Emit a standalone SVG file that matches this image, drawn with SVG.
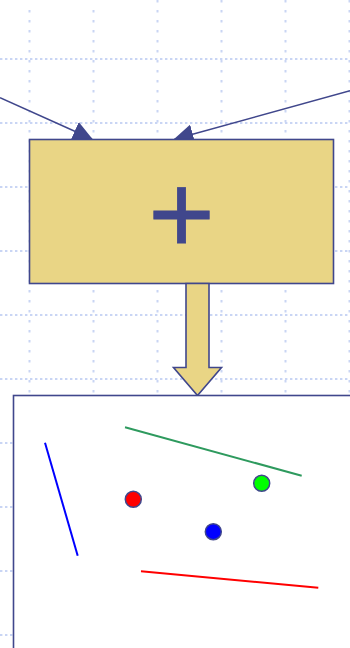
<svg xmlns="http://www.w3.org/2000/svg" width="350" height="648" viewBox="0 0 350 648">
<style>
.gh{stroke:#c9d5f4;stroke-width:2;stroke-dasharray:2.4 2.6;fill:none}
.gv{stroke:#c9d5f4;stroke-width:2;stroke-dasharray:2.6 7.4;fill:none}
.edge{stroke:#40478c;stroke-width:1.6;fill:none}
.node{stroke:#40478c;stroke-width:1.6}
.dot{stroke:#40478c;stroke-width:1.5}
.plus{font-family:"Liberation Sans",Arial,sans-serif;font-size:114px;fill:#40478c;stroke:#40478c;stroke-width:0.8}
</style>
<defs>
<marker id="ah" viewBox="0 0 20 20" refX="19" refY="10" markerWidth="20" markerHeight="20" markerUnits="userSpaceOnUse" orient="auto">
<path d="M0,0 L20,10 L0,20 z" fill="#40478c"/>
</marker>
</defs>
<rect width="350" height="648" fill="#ffffff"/>
<g id="grid">
<path class="gh" d="M0,59H350M0,123H350M0,187H350M0,251H350M0,315H350M0,379H350M0,443H350M0,507H350M0,571H350M0,635H350"/>
<path class="gv" d="M29.5,10V648M93.5,10V648M157.5,0V648M221.5,0V648M285.5,0V648M349.5,0V648"/>
</g>
<g id="connectors">
<path class="edge" d="M0,97.7 L92,139" marker-end="url(#ah)"/>
<path class="edge" d="M350,90.7 L174.5,139.3" marker-end="url(#ah)"/>
</g>
<g id="adder">
<rect class="node" x="29.5" y="139.5" width="304" height="144" fill="#e9d585"/>
<text class="plus" x="181.5" y="252.5" text-anchor="middle">+</text>
</g>
<g id="output-arrow">
<path class="node" d="M186,283.5 L209,283.5 L209,367.5 L221.5,367.5 L197.5,395.5 L173.5,367.5 L186,367.5 Z" fill="#e9d585"/>
</g>
<g id="result">
<rect class="node" x="13.5" y="395.5" width="400" height="300" fill="#ffffff" stroke-width="2"/>
<line x1="45" y1="442.7" x2="77.7" y2="555.7" stroke="#0000ff" stroke-width="2"/>
<line x1="125" y1="427.3" x2="301.7" y2="475.7" stroke="#2e9a5e" stroke-width="2"/>
<line x1="141" y1="571.3" x2="318.3" y2="587.7" stroke="#ff0000" stroke-width="2"/>
<circle class="dot" cx="133.3" cy="499.3" r="8" fill="#ff0000"/>
<circle class="dot" cx="261.7" cy="483.3" r="8" fill="#00ff00"/>
<circle class="dot" cx="213.3" cy="531.7" r="8" fill="#0000ff"/>
</g>
</svg>
